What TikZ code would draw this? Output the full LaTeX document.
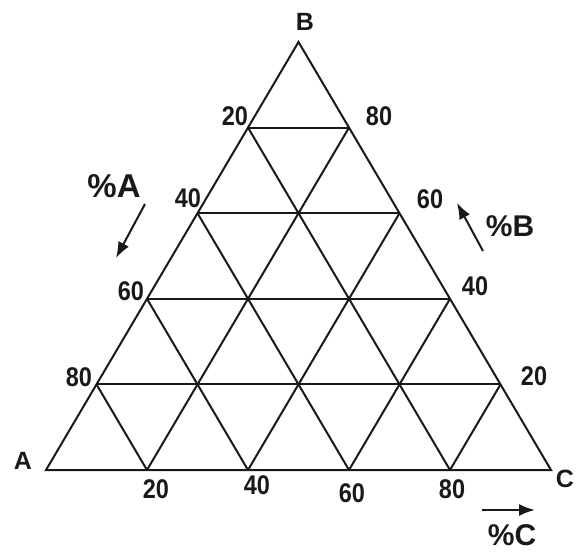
\documentclass[tikz,border=0pt]{standalone}
\usepackage{fontspec}
\setmainfont{Liberation Sans}
\newfontfamily\narrowsans[FakeStretch=0.87]{Liberation Sans}
\usetikzlibrary{calc,arrows.meta}
\begin{document}
\begin{tikzpicture}[x=1pt,y=-1pt,
  gridline/.style={line width=2pt,black!90},
  numlbl/.style={font=\narrowsans\fontsize{27}{27}\selectfont\bfseries,inner sep=0pt,text=black!90},
  vtxlbl/.style={font=\fontsize{25}{25}\selectfont\bfseries,inner sep=0pt,text=black!90},
  pctlbl/.style={font=\fontsize{30}{30}\selectfont\bfseries,inner sep=0pt,text=black!90},
  dirarrow/.style={line width=2pt,black!90,-{Latex[length=16pt,width=12pt]}}]
\useasboundingbox (0,0) rectangle (576,555);
\coordinate (A) at (46,470);
\coordinate (C) at (551,470);
\coordinate (B) at (298.5,42);
\foreach \k/\f in {1/0.2,2/0.4,3/0.6,4/0.8}{
  \coordinate (L\k) at ($(A)!\f!(B)$);
  \coordinate (R\k) at ($(C)!\f!(B)$);
  \coordinate (D\k) at ($(A)!\f!(C)$);
}
\draw[gridline,line join=miter] (A) -- (B) -- (C) -- cycle;
\foreach \k in {1,2,3,4}{
  \pgfmathtruncatemacro{\j}{5-\k}
  \draw[gridline] (L\k) -- (R\k);
  \draw[gridline] (D\k) -- (L\k);
  \draw[gridline] (D\k) -- (R\j);
}
% vertex labels
\node[vtxlbl] (lB) at (305,22) {B};
\node[vtxlbl] (lA) at (23,461) {A};
\node[vtxlbl] (lC) at (565,479) {C};
% left side
\node[numlbl] (l20) at (235,116) {20};
\node[numlbl] (l40) at (188,198) {40};
\node[numlbl] (l60) at (131,291) {60};
\node[numlbl] (l80) at (79,377) {80};
% right side
\node[numlbl] (r80) at (379,116) {80};
\node[numlbl] (r60) at (430,199) {60};
\node[numlbl] (r40) at (475,286) {40};
\node[numlbl] (r20) at (534,376) {20};
% base
\node[numlbl] (b20) at (156,489) {20};
\node[numlbl] (b40) at (257,485) {40};
\node[numlbl] (b60) at (352,493) {60};
\node[numlbl] (b80) at (452,489) {80};
% percent labels and arrows
\node[pctlbl,font=\fontsize{33}{33}\selectfont\bfseries] (pA) at (114,186) {\%A};
\coordinate (aA1) at (145,204);
\coordinate (aA2) at (116,258);
\draw[dirarrow] (aA1) -- (aA2);
\node[pctlbl] (pB) at (510,226) {\%B};
\coordinate (aB1) at (483,251);
\coordinate (aB2) at (457,203);
\draw[dirarrow] (aB1) -- (aB2);
\node[pctlbl] (pC) at (512,535) {\%C};
\coordinate (aC1) at (482,510);
\coordinate (aC2) at (535,510);
\draw[dirarrow] (aC1) -- (aC2);
\end{tikzpicture}
\end{document}
